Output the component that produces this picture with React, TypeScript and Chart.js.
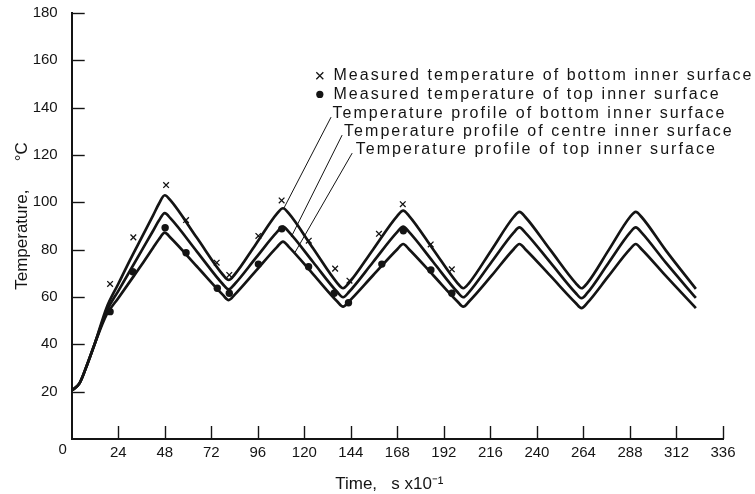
import React, { useEffect, useRef } from "react";
import { Chart, registerables } from "chart.js";

Chart.register(...registerables);

// ---- Data ----
// time axis is in s x 10^-1, temperature in °C
const CURVE_TIME = [
  0, 4, 8, 12, 18, 24, 30, 36, 42, 45,
  48, 51, 64.5, 78, 81, 84, 95, 106, 109, 112,
  124.5, 137, 140, 143, 155.5, 168, 171, 174, 186.5, 199,
  202, 205, 216.5, 228, 231, 234, 247, 260, 263, 266,
  277, 288, 291, 294, 306.5, 322,
];

const PROFILE_BOTTOM_SURFACE = [
  20.5, 23.5, 31.5, 40.5, 55.5, 65.5, 75.5, 85, 94.5, 99.4,
  103, 100.8, 85.1, 69.4, 67.2, 69.4, 82.3, 95.3, 97.5, 95.3,
  80.6, 65.9, 63.7, 65.9, 80.1, 94.3, 96.5, 94.3, 80.1, 65.9,
  63.7, 65.9, 79.8, 93.8, 96, 93.8, 79.8, 65.9, 63.7, 65.9,
  79.8, 93.8, 96, 93.8, 79.7, 63.4,
];

const PROFILE_CENTRE_SURFACE = [
  20.5, 23.5, 31.5, 40.5, 54, 62.5, 71, 79.5, 88, 92.3,
  95.4, 93.2, 79.3, 65.4, 63.2, 65.4, 76.5, 87.5, 89.7, 87.5,
  74.8, 62.1, 59.9, 62.1, 74.8, 87.5, 89.7, 87.5, 74.8, 62.1,
  59.9, 62.1, 74.7, 87.2, 89.4, 87.2, 74.5, 61.7, 59.5, 61.7,
  74.5, 87.2, 89.4, 87.2, 74.5, 59.6,
];

const PROFILE_TOP_SURFACE = [
  20.5, 23.5, 31.5, 40.5, 52.5, 59.5, 66.5, 73.5, 80.8, 84.4,
  87.2, 85, 73, 60.9, 58.7, 60.9, 71, 81.2, 83.4, 81.2,
  69.7, 58.1, 55.9, 58.1, 69.2, 80.2, 82.4, 80.2, 69.2, 58.1,
  55.9, 58.1, 68.9, 80.2, 82.4, 80.2, 68.9, 57.5, 55.3, 57.5,
  68.9, 80.2, 82.4, 80.2, 68.9, 55.3,
];

const MEASURED_BOTTOM_TIME = [19.8, 31.8, 48.7, 59, 74.8, 81.3, 96.3, 108.3, 122.3, 135.9, 143.3, 158.5, 170.8, 185.2, 196.1];
const MEASURED_BOTTOM_TEMP = [65.5, 85.2, 107.3, 92.5, 74.5, 69.3, 85.8, 100.8, 83.8, 72, 66.9, 86.7, 99.2, 82.2, 71.7];

const MEASURED_TOP_TIME = [19.8, 31.5, 48.2, 59, 75.1, 81.3, 96.3, 108.4, 122.2, 135.4, 142.8, 160, 171.1, 185.3, 196.1];
const MEASURED_TOP_TEMP = [53.8, 70.7, 89.3, 78.7, 63.7, 61.6, 73.9, 88.8, 72.8, 61.6, 57.6, 73.9, 88, 71.4, 61.6];

const X_TICKS = [0, 24, 48, 72, 96, 120, 144, 168, 192, 216, 240, 264, 288, 312, 336];
const Y_TICKS = [0, 20, 40, 60, 80, 100, 120, 140, 160, 180];

const LEGEND_LABELS = [
  "Measured temperature of bottom inner surface",
  "Measured temperature of top inner surface",
  "Temperature profile of bottom inner surface",
  "Temperature profile of centre inner surface",
  "Temperature profile of top inner surface",
];

const X_TITLE = "Time,   s x10\u207B\u00B9";
const Y_TITLE = "Temperature,      \u00B0C";

// annotation anchors in data units (time, temperature)
const LEGEND_MARKER_T = 128;
const LEGEND_TEXT_T = [135, 135, 134.5, 140.5, 146.5];
const LEGEND_ROW_V = [153.5, 145.6, 137.6, 130, 122.4];
const LEADERS = [
  [133.8, 136, 109.5, 97.6],
  [139.5, 128.4, 113.2, 85.3],
  [144.7, 120.8, 115.3, 79],
];

const FONT = '"Liberation Sans", Arial, Helvetica, sans-serif';
const INK = "#141414";

const overlay = {
  id: "overlay",
  afterDraw(chart: any) {
    const { ctx, scales } = chart;
    const xs = scales.x;
    const ys = scales.y;
    const X = (t: number) => xs.getPixelForValue(t);
    const Y = (v: number) => ys.getPixelForValue(v);
    ctx.save();
    ctx.strokeStyle = INK;
    ctx.fillStyle = INK;
    // inward tick marks
    ctx.lineWidth = 1.4;
    for (const v of Y_TICKS) {
      if (v === 0) continue;
      const py = Math.round(Y(v)) + 0.5;
      ctx.beginPath();
      ctx.moveTo(X(0), py);
      ctx.lineTo(X(0) + 13, py);
      ctx.stroke();
    }
    for (const t of X_TICKS) {
      if (t === 0) continue;
      const px = Math.round(X(t)) + 0.5;
      ctx.beginPath();
      ctx.moveTo(px, Y(0));
      ctx.lineTo(px, Y(0) - 13);
      ctx.stroke();
    }
    // origin label
    ctx.font = `15px ${FONT}`;
    ctx.textAlign = "center";
    ctx.textBaseline = "middle";
    ctx.fillText("0", X(0) - 9, Y(0) + 11);

    // axis titles
    ctx.font = `17px ${FONT}`;
    ctx.fillText(X_TITLE, (X(0) + X(336)) / 2 - 8, 484);
    ctx.save();
    ctx.translate(22, 216);
    ctx.rotate(-Math.PI / 2);
    ctx.fillText(Y_TITLE, 0, 0);
    ctx.restore();

    // leader lines
    ctx.lineWidth = 1;
    for (const [t1, v1, t2, v2] of LEADERS) {
      ctx.beginPath();
      ctx.moveTo(X(t1), Y(v1));
      ctx.lineTo(X(t2), Y(v2));
      ctx.stroke();
    }

    // legend markers
    const mx = X(LEGEND_MARKER_T);
    const my0 = Y(LEGEND_ROW_V[0]);
    ctx.lineWidth = 1.3;
    ctx.beginPath();
    ctx.moveTo(mx - 3.5, my0 - 3.5);
    ctx.lineTo(mx + 3.5, my0 + 3.5);
    ctx.moveTo(mx + 3.5, my0 - 3.5);
    ctx.lineTo(mx - 3.5, my0 + 3.5);
    ctx.stroke();
    ctx.beginPath();
    ctx.arc(mx, Y(LEGEND_ROW_V[1]), 3.6, 0, Math.PI * 2);
    ctx.fill();

    // legend text
    ctx.font = `16px ${FONT}`;
    ctx.textAlign = "left";
    ctx.textBaseline = "middle";
    (ctx as any).letterSpacing = "2.05px";
    LEGEND_LABELS.forEach((label, i) => {
      ctx.fillText(label, X(LEGEND_TEXT_T[i]), Y(LEGEND_ROW_V[i]));
    });
    ctx.restore();
  },
};

export default function App() {
  const canvasRef = useRef<HTMLCanvasElement | null>(null);

  useEffect(() => {
    document.body.style.margin = "0";
    const canvas = canvasRef.current;
    if (!canvas) return;

    const curve = (values: number[]) =>
      CURVE_TIME.map((t, i) => ({ x: t, y: values[i] }));
    const pts = (ts: number[], vs: number[]) => ts.map((t, i) => ({ x: t, y: vs[i] }));

    const lineStyle = {
      showLine: true,
      pointRadius: 0,
      borderColor: INK,
      borderWidth: 2.7,
      cubicInterpolationMode: "monotone" as const,
      fill: false,
    };

    const chart = new Chart(canvas, {
      type: "scatter",
      data: {
        datasets: [
          { label: LEGEND_LABELS[2], data: curve(PROFILE_BOTTOM_SURFACE), ...lineStyle },
          { label: LEGEND_LABELS[3], data: curve(PROFILE_CENTRE_SURFACE), ...lineStyle },
          { label: LEGEND_LABELS[4], data: curve(PROFILE_TOP_SURFACE), ...lineStyle },
          {
            label: LEGEND_LABELS[0],
            data: pts(MEASURED_BOTTOM_TIME, MEASURED_BOTTOM_TEMP),
            pointStyle: "crossRot",
            pointRadius: 4,
            borderWidth: 1.3,
            borderColor: INK,
            backgroundColor: INK,
            showLine: false,
          },
          {
            label: LEGEND_LABELS[1],
            data: pts(MEASURED_TOP_TIME, MEASURED_TOP_TEMP),
            pointStyle: "circle",
            pointRadius: 3.7,
            borderWidth: 0,
            borderColor: INK,
            backgroundColor: INK,
            showLine: false,
          },
        ],
      },
      options: {
        responsive: false,
        animation: false,
        devicePixelRatio: 1,
        layout: { autoPadding: false, padding: { top: 13, right: 32, left: 0, bottom: 0 } },
        plugins: {
          legend: { display: false },
          tooltip: { enabled: false },
        },
        scales: {
          x: {
            type: "linear",
            min: 0,
            max: 336,
            afterFit: (s: any) => {
              s.height = 55;
              s.paddingLeft = 0;
              s.paddingRight = 0;
            },
            afterBuildTicks: (s: any) => {
              s.ticks = X_TICKS.map((v) => ({ value: v }));
            },
            ticks: {
              color: INK,
              font: { family: FONT, size: 15 },
              padding: 5,
              maxRotation: 0,
              autoSkip: false,
              callback: (v: any) => (v === 0 ? "" : String(v)),
            },
            grid: { display: false, drawTicks: false },
            border: { display: true, color: INK, width: 2 },
          },
          y: {
            type: "linear",
            min: 0,
            max: 180,
            afterFit: (s: any) => {
              s.width = 71.7;
              s.paddingTop = 0;
              s.paddingBottom = 0;
            },
            afterBuildTicks: (s: any) => {
              s.ticks = Y_TICKS.map((v) => ({ value: v }));
            },
            ticks: {
              color: INK,
              font: { family: FONT, size: 15 },
              padding: 14,
              autoSkip: false,
              callback: (v: any) => (v === 0 ? "" : String(v)),
            },
            grid: { display: false, drawTicks: false },
            border: { display: true, color: INK, width: 2 },
          },
        },
      },
      plugins: [overlay],
    });

    return () => chart.destroy();
  }, []);

  return (
    <div style={{ position: "fixed", left: 0, top: 0, width: 755, height: 494, background: "#fff" }}>
      <canvas ref={canvasRef} width={755} height={494} />
    </div>
  );
}
